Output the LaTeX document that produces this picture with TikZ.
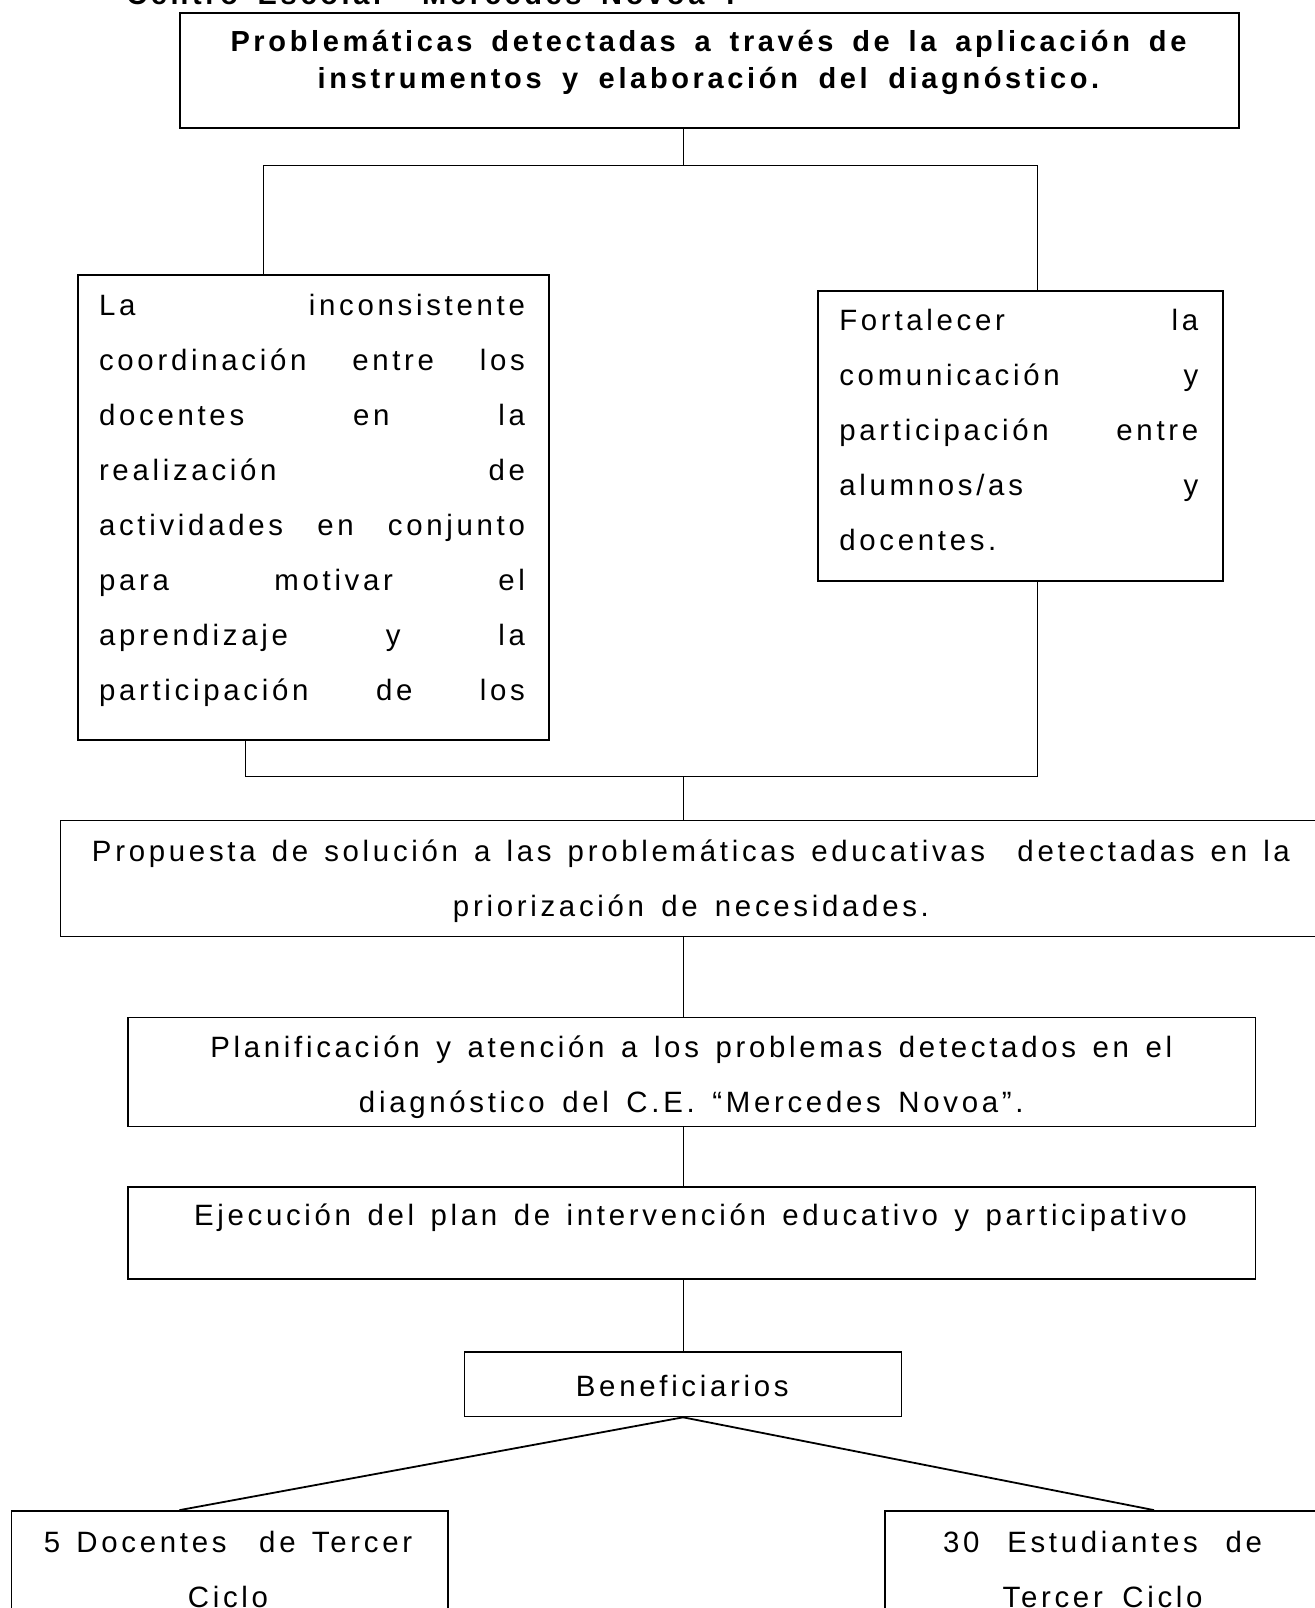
\documentclass[tikz,border=0pt]{standalone}
\usepackage{fontspec}
\setmainfont{Liberation Sans}[LetterSpace=12.6]
\usepackage{tikz}
\usetikzlibrary{positioning}

% renglon de ancho fijo, los espacios se estiran
\newcommand{\renglon}[2]{\makebox[#1][s]{\spaceskip=0.45em plus 1fil minus 0.15em\relax #2}}

\begin{document}
\begin{tikzpicture}[x=0.5pt, y=-0.5pt]
\tikzstyle{caja}=[
    draw,
    line width=0.8pt,
    inner sep=0pt % solo el marco
]
\tikzstyle{texto}=[inner sep=0pt, anchor=base, align=center, font=\fontsize{14.7}{27.5}\selectfont]
\tikzstyle{titulo}=[texto, font=\bfseries\fontsize{14.5}{18.3}\selectfont]
\tikzstyle{linea}=[-, line width=0.5pt]
\tikzstyle{diagonal}=[-, line width=0.9pt]

\useasboundingbox (0,0) rectangle (1315,1608);

% Encabezado (cortado arriba)
\node[titulo, anchor=base west] (centro) at (126,4)
    {\renglon{304pt}{Centro Escolar “Mercedes Novoa”.}};

% Cajas
\node[caja, line width=1pt, minimum width=529.75pt, minimum height=57.45pt] (prob) at (709.25,70.75) {};
\node[caja, minimum width=235.65pt, minimum height=232.5pt] (izq) at (313.35,507.5) {};
\node[caja, minimum width=202.5pt, minimum height=145pt] (der) at (1020.2,435.7) {};
\node[caja, minimum width=629.75pt, minimum height=57.95pt] (prop) at (690.25,878.55) {};
\node[caja, minimum width=563.65pt, minimum height=54.4pt] (plan) at (691.85,1071.9) {};
\node[caja, minimum width=563.65pt, minimum height=46.15pt] (ejec) at (691.85,1232.85) {};
\node[caja, minimum width=218.5pt, minimum height=32.3pt] (benef) at (683.1,1384.2) {};
\node[caja, minimum width=218.45pt, minimum height=69.55pt] (doc) at (229.75,1580.45) {};
\node[caja, minimum width=217.4pt, minimum height=69.55pt] (est) at (1102.6,1580.45) {};

% Textos
\node[titulo, text width=600pt] (prob-txt) at (708.5,51.5)
    {\renglon{478pt}{Problemáticas detectadas a través de la aplicación de}\\
     \renglon{390.75pt}{instrumentos y elaboración del diagnóstico.}};
\node[texto, text width=213pt, align=left] (izq-txt) at (312,315)
    {\renglon{213pt}{La inconsistente}\\
     \renglon{213pt}{coordinación entre los}\\
     \renglon{213pt}{docentes en la}\\
     \renglon{213pt}{realización de}\\
     \renglon{213pt}{actividades en conjunto}\\
     \renglon{213pt}{para motivar el}\\
     \renglon{213pt}{aprendizaje y la}\\
     \renglon{213pt}{participación de los}};
\node[texto, text width=179.5pt, align=left] (der-txt) at (1018.8,330.7)
    {\renglon{179.5pt}{Fortalecer la}\\
     \renglon{179.5pt}{comunicación y}\\
     \renglon{179.5pt}{participación entre}\\
     \renglon{179.5pt}{alumnos/as y}\\
     docentes.};
\node[texto, text width=640pt] (prop-txt) at (691,861.6)
    {\renglon{599pt}{Propuesta de solución a las problemáticas educativas\ \ detectadas en la}\\
     \renglon{238pt}{priorización de necesidades.}};
\node[texto, text width=600pt] (plan-txt) at (691.3,1057.5)
    {\renglon{481pt}{Planificación y atención a los problemas detectados en el}\\
     \renglon{332.3pt}{diagnóstico del C.E. “Mercedes Novoa”.}};
\node[texto] (ejec-txt) at (690.5,1225.7)
    {\renglon{496.5pt}{Ejecución del plan de intervención educativo y participativo}};
\node[texto] (benef-txt) at (682.3,1396) {Beneficiarios};
\node[texto, text width=210pt] (doc-txt) at (228,1552.7)
    {\renglon{184.2pt}{5 Docentes\ \ de Tercer}\\ Ciclo};
\node[texto, text width=210pt] (est-txt) at (1102.6,1552.7)
    {\renglon{159.5pt}{30\ \ Estudiantes\ \ de}\\ \renglon{100pt}{Tercer Ciclo}};

% Uniones
\coordinate (r1) at (683.1,165.1);
\coordinate (ramaI) at (263.6,165.1);
\coordinate (ramaD) at (1037,165.1);
\coordinate (une) at (683.1,776.5);
\coordinate (uneI) at (245.7,776.5);
\coordinate (uneD) at (1037,776.5);

\draw[linea] (prob.south -| r1) -- (r1);
\draw[linea] (ramaI |- izq.north) -- (ramaI) -- (ramaD) -- (ramaD |- der.north);
\draw[linea] (uneI |- izq.south) -- (uneI) -- (uneD) -- (uneD |- der.south);
\draw[linea] (une) -- (prop.north -| une);
\draw[linea] (prop.south -| une) -- (plan.north -| une);
\draw[linea] (plan.south -| une) -- (ejec.north -| une);
\draw[linea] (ejec.south -| une) -- (benef.north);

% Beneficiarios
\draw[diagonal] (benef.south) -- ([xshift=-25.1pt]doc.north);
\draw[diagonal] (benef.south) -- ([xshift=25.7pt]est.north);

\end{tikzpicture}
\end{document}
